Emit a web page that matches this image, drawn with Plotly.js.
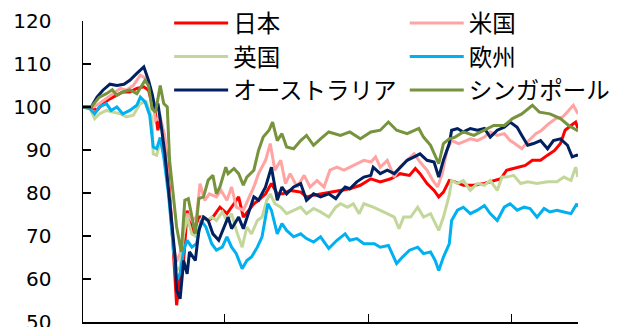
<!DOCTYPE html>
<html>
<head>
<meta charset="utf-8">
<script src="https://cdn.plot.ly/plotly-3.0.1.min.js"></script>
<style>
html,body{margin:0;padding:0;background:#fff;}
#chart{width:624px;height:327px;}
</style>
</head>
<body>
<div id="chart"></div>
<script>
// Days since 2020-01-01 and index values (2020/1/1 = 100)
const seriesNames = ["日本", "米国", "英国", "欧州", "オーストラリア", "シンガポール"];

const jpnDays = [0,7,12,17,23,29,34,40,46,52,56,59,62,64,66,69,72,76,79,80,83,86,89,91,94,99,103,107,111,117,123,129,133,137,141,146,150,156,161,166,171,177,186,191,197,203,210,220,228,237,246,254,263,271,279,284,288,294,300,304,308,313,318,325,334,343,351,357,362,371,378,384,391,397,403,408,412,417,421,423];
const jpnVals = [100,100,99.2,100.8,101.9,102.7,103.5,103.5,104.3,104.7,103.9,100.8,98.4,94.6,96.9,93.8,87.6,72.1,57.4,53.9,61.2,64.3,75.9,73.6,70.5,74.4,74.4,73.6,74.4,76.7,75.2,77.5,79.1,74.4,75.9,77.5,78.3,79.8,82.2,79.8,79.8,80.6,80.2,79.1,79.5,79.8,80.2,80.6,81.0,81.8,83.3,82.6,83.3,84.5,84.1,85.7,84.5,82.2,80.6,79.1,80.2,82.9,82.6,81.8,81.8,82.2,82.9,83.3,85.3,86.0,86.4,87.6,87.6,88.8,89.9,91.5,94.6,95.7,96.5,95.0];

const usaDays = [0,9,14,20,26,32,37,43,49,54,59,62,66,70,74,77,80,83,86,89,93,97,100,104,108,114,118,123,127,131,137,141,146,150,156,160,164,169,173,177,183,189,194,200,206,211,217,223,228,234,240,246,250,254,260,266,271,277,283,288,294,299,303,307,311,315,321,325,331,337,343,348,354,360,365,369,375,381,387,392,398,404,410,415,419,423];
const usaVals = [100,100,100.8,101.9,103.1,104.3,103.9,105.0,107.4,106.6,102.3,96.9,97.7,93.0,78.0,68.0,64.0,66.0,70.5,75.2,73.6,74.4,82.2,78.3,79.8,79.1,80.6,78.3,81.4,76.7,76.0,78.3,81.4,84.5,87.6,91.5,85.3,87.6,82.2,84.5,81.4,84.1,81.4,82.9,81.4,85.3,86.0,85.3,86.0,86.8,87.6,87.2,88.4,86.0,87.6,83.7,86.0,87.6,89.1,87.2,85.3,82.9,81.4,84.5,89.9,92.2,91.5,91.9,92.6,92.2,93.0,94.2,93.4,93.8,92.2,91.5,90.3,92.2,93.8,94.6,96.1,97.3,97.7,99.2,100.4,98.4];

const gbrDays = [0,6,10,14,20,26,32,37,43,49,54,59,60,63,66,69,73,77,80,83,86,89,93,97,102,106,110,114,119,123,127,131,136,140,144,149,153,157,160,164,169,174,180,186,191,197,203,210,216,220,226,231,236,240,248,254,260,266,270,274,280,286,291,297,301,304,308,313,315,320,325,331,337,343,348,354,358,362,368,374,380,388,397,405,411,417,421,423];
const gbrVals = [100,99.6,97.3,98.4,99.2,98.8,98.4,97.7,98.1,100.8,101.2,97.3,89.1,88.8,92.2,89.1,81.4,67.4,62.0,62.8,70.5,74.4,70.5,69.8,74.4,73.6,74.4,73.6,75.6,73.6,75.2,71.3,67.4,72.1,70.5,73.6,74.4,78.3,79.8,77.5,76.7,75.2,76.0,76.7,75.2,76.4,75.6,74.4,76.7,77.5,76.7,77.5,75.2,77.5,76.7,76.0,75.2,74.4,71.7,74.4,74.4,76.7,74.4,75.2,73.0,71.3,74.4,79.5,82.9,82.2,82.9,80.6,82.2,81.8,82.9,80.6,83.7,83.7,84.1,82.2,82.6,82.2,82.6,82.6,83.7,82.9,86.0,83.7];

const eurDays = [0,6,10,14,20,24,29,34,40,46,49,53,57,60,63,66,69,73,77,80,83,86,89,93,97,101,105,110,114,119,123,127,131,136,140,144,149,153,158,161,166,170,174,180,186,191,197,203,210,217,224,228,234,240,249,254,261,268,273,279,286,291,297,301,304,308,313,315,320,325,331,337,343,348,354,360,365,371,377,382,388,394,399,405,411,417,422,423];
const eurVals = [100,99.6,98.4,100,100.8,99.2,100,98.4,99.2,100.4,102.3,101.2,98.1,90.7,90.3,92.9,88.4,79.8,68.2,59.7,61.2,66.7,69.0,67.4,68.2,73.6,72.1,68.2,66.7,67.4,69.8,67.4,65.9,62.4,64.3,65.1,67.4,69.8,77.5,76.0,70.5,72.9,71.3,69.8,70.5,69.4,68.6,69.8,67.1,69.0,70.5,69.0,69.4,68.2,68.2,67.4,67.8,63.6,65.1,66.7,67.4,65.9,66.3,64.3,62.0,65.1,68.2,73.6,76.0,76.7,75.2,76.0,77.1,75.2,73.6,76.7,77.5,76.0,76.7,76.4,74.4,76.4,75.6,76.0,75.6,75.2,77.5,76.8];

const ausDays = [0,7,12,17,23,29,35,40,46,52,56,59,62,64,67,70,74,79,80,83,86,89,91,96,99,103,107,111,116,120,124,127,133,137,141,146,150,156,161,166,170,174,180,186,191,197,203,210,216,220,224,228,234,240,246,248,254,260,266,271,277,283,288,294,300,304,308,313,315,320,325,331,337,343,348,354,360,365,371,375,380,385,391,397,402,408,414,418,422,423];
const ausVals = [100,100,102.3,103.9,105.3,105.0,105.3,106.2,107.8,109.3,106.2,103.1,99.2,100.8,95.3,89.1,78.3,64.3,57.4,55.4,64.3,61.2,66.3,64.3,71.3,74.4,73.6,70.5,69.0,71.7,74.4,71.7,74.4,71.7,75.2,79.1,78.3,81.4,86.0,78.3,81.4,79.8,81.4,82.2,78.3,79.8,79.1,79.8,78.7,80.2,81.4,81.0,82.6,83.7,84.1,86.0,84.5,85.3,84.5,86.0,87.6,88.4,89.1,87.6,87.2,83.7,87.6,91.5,94.6,95.0,94.2,95.0,94.6,95.0,93.0,94.6,95.3,96.5,95.3,93.4,91.1,91.5,92.2,90.3,92.2,92.6,91.1,88.4,88.8,88.6];

const sgpDays = [0,7,14,20,25,29,34,40,46,49,53,56,59,62,66,69,72,74,80,84,87,90,93,96,99,103,107,111,114,117,122,124,129,133,137,140,146,150,154,159,162,166,170,174,180,186,191,197,203,210,220,228,237,246,254,261,268,277,287,291,297,301,304,308,313,318,325,334,343,351,360,367,375,384,390,399,408,415,422,423];
const sgpVals = [100,100,102.3,103.1,104.0,102.7,103.5,104.0,103.1,104.3,106.2,105.0,99.6,98.8,105.0,100.8,100,87.6,72.1,66.3,78.3,78.7,75.0,70.5,78.7,79.1,83.0,84.1,79.8,81.4,86.0,84.5,85.7,84.5,81.8,83.7,85.3,89.9,93.0,94.6,96.5,92.2,93.8,90.7,90.3,92.2,93.4,91.1,92.6,94.2,93.4,94.2,92.6,94.2,94.6,96.5,94.6,93.8,95.0,93.0,91.1,88.4,86.8,91.5,92.6,93.0,94.2,93.4,94.6,95.7,95.7,97.3,98.4,100.4,98.8,98.4,97.3,95.7,94.6,94.4];

const colors = ["#FF0000", "#FFA3A3", "#C4D79B", "#00B0F0", "#002060", "#77933C"];
const xTickDays = [0, 121, 244, 366];

const daysList = [jpnDays, usaDays, gbrDays, eurDays, ausDays, sgpDays];
const valsList = [jpnVals, usaVals, gbrVals, eurVals, ausVals, sgpVals];
const legendOf = ["legend", "legend2", "legend", "legend2", "legend", "legend2"];

const traces = seriesNames.map((name, i) => ({
  type: "scatter",
  mode: "lines",
  name: name,
  x: daysList[i],
  y: valsList[i],
  line: {color: colors[i], width: 3},
  legend: legendOf[i],
  hoverinfo: "skip"
}));

const legendFont = {family: "Noto Sans CJK JP", size: 23.5, color: "#000"};

const layout = {
  width: 624,
  height: 327,
  margin: {l: 83, r: 46, t: 21, b: 5, pad: 0, autoexpand: false},
  paper_bgcolor: "#fff",
  plot_bgcolor: "#fff",
  showlegend: true,
  xaxis: {
    range: [0, 423],
    showgrid: false,
    zeroline: false,
    showline: true,
    linecolor: "#000",
    linewidth: 1.5,
    ticks: "inside",
    ticklen: 8,
    tickwidth: 1.5,
    tickcolor: "#000",
    tickmode: "array",
    tickvals: xTickDays,
    showticklabels: false,
    fixedrange: true
  },
  yaxis: {
    range: [50, 120],
    showgrid: false,
    zeroline: false,
    showline: true,
    linecolor: "#000",
    linewidth: 1.5,
    ticks: "inside",
    ticklen: 8,
    tickwidth: 1.5,
    tickcolor: "#000",
    dtick: 10,
    tick0: 50,
    ticklabelstandoff: 26,
    ticklabeloverflow: "allow",
    tickfont: {family: "DejaVu Sans", size: 20, color: "#000"},
    fixedrange: true
  },
  legend: {
    x: 0.174, y: 1.066, xanchor: "left", yanchor: "top",
    orientation: "v",
    bgcolor: "rgba(0,0,0,0)",
    font: legendFont,
    itemwidth: 54,
    tracegroupgap: 0
  },
  legend2: {
    x: 0.65, y: 1.066, xanchor: "left", yanchor: "top",
    orientation: "v",
    bgcolor: "rgba(0,0,0,0)",
    font: legendFont,
    itemwidth: 54,
    tracegroupgap: 0
  }
};

Plotly.newPlot("chart", traces, layout, {displayModeBar: false, staticPlot: true});
</script>
</body>
</html>
